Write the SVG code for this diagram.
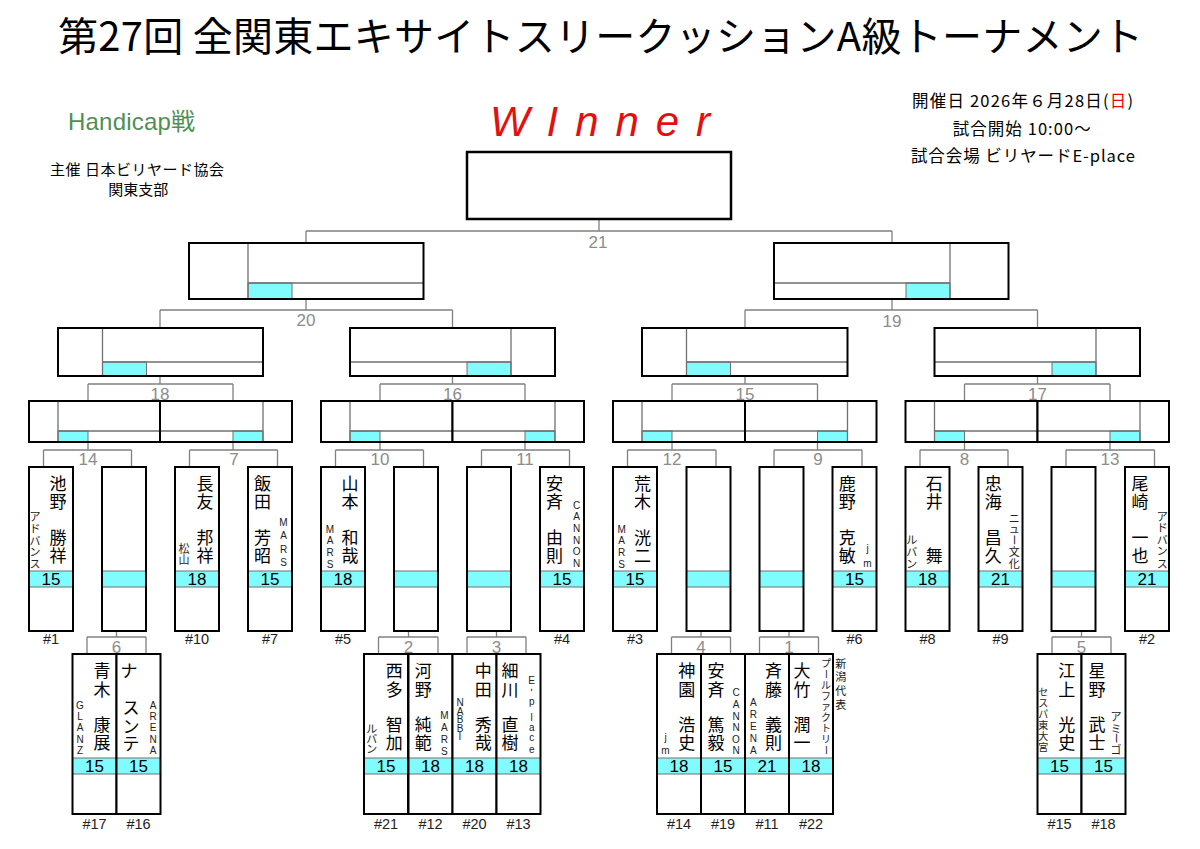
<svg xmlns="http://www.w3.org/2000/svg" xmlns:xlink="http://www.w3.org/1999/xlink" width="1200" height="849" viewBox="0 0 1200 849">
<style>
.wf{fill:#fff;stroke:none}
.ol{fill:none;stroke:#000;stroke-width:2}
.ln{fill:none;stroke:#707070;stroke-width:1.3}
.cy{fill:#80fcff;stroke:#707070;stroke-width:1}
.cn{fill:none;stroke:#808080;stroke-width:1.3}
.lb{font-family:"Liberation Sans",Arial,sans-serif;font-size:17px;fill:#8c8c8c;text-anchor:middle}
.nm{font-family:"Noto Sans CJK JP",sans-serif;font-size:17px;fill:#000;text-anchor:middle}
.cj{font-family:"Noto Sans CJK JP",sans-serif;font-size:11px;fill:#222;text-anchor:middle}
.cs{font-family:"Noto Sans CJK JP",sans-serif;font-size:10px;fill:#222;text-anchor:middle}
.cl{font-family:"Liberation Sans",Arial,sans-serif;font-size:10px;fill:#222;text-anchor:middle}
.sc{font-family:"Liberation Sans",Arial,sans-serif;font-size:17px;fill:#000;text-anchor:middle}
.no{font-family:"Liberation Sans",Arial,sans-serif;font-size:14.5px;fill:#222;text-anchor:middle}
.hd{font-family:"Noto Sans CJK JP",sans-serif;font-size:16.5px;fill:#000;text-anchor:middle}
</style>
<defs>
<g id="tb"><rect class="wf" width="44" height="164"/><rect class="cy" y="104" width="44" height="16"/><rect class="ol" width="44" height="164"/></g>
<g id="bb"><rect class="wf" width="44" height="160"/><rect class="cy" y="104" width="44" height="16"/><rect class="ol" width="44" height="160"/></g>
</defs>
<rect width="1200" height="849" fill="#fff"/>

<g id="header">
<text x="600.5" y="51" font-family="Noto Sans CJK JP, sans-serif" font-size="40" text-anchor="middle" textLength="1085" lengthAdjust="spacing">第27回 全関東エキサイトスリークッションA級トーナメント</text>
<text x="600" y="136" font-family="Liberation Sans, Arial, sans-serif" font-size="42" font-style="italic" fill="#e3100f" text-anchor="middle" textLength="220" lengthAdjust="spacing">WInner</text>
<text x="131.5" y="129.5" font-family="Liberation Sans, Noto Sans CJK JP, sans-serif" font-size="24" fill="#4f8f55" text-anchor="middle" textLength="127" lengthAdjust="spacing">Handicap戦</text>
<text x="137" y="174.5" font-family="Noto Sans CJK JP, sans-serif" font-size="15" text-anchor="middle" textLength="174" lengthAdjust="spacing">主催 日本ビリヤード協会</text>
<text x="138.3" y="194.5" font-family="Noto Sans CJK JP, sans-serif" font-size="15" text-anchor="middle">関東支部</text>
<text class="hd" x="1022.5" y="107" textLength="221" lengthAdjust="spacing">開催日  2026年６月28日(<tspan fill="#e00">日</tspan>)</text>
<text class="hd" x="1021.7" y="135" textLength="138" lengthAdjust="spacing">試合開始 10:00〜</text>
<text class="hd" x="1022.9" y="161.5" textLength="224" lengthAdjust="spacing">試合会場  ビリヤードE-place</text>
</g>

<g id="connectors">
<path class="cn" d="M599 219V231M306 231H892M306 231V243M892 231V243"/>
<path class="cn" d="M306 299V310M160 310H452.5M160 310V328M452.5 310V328"/>
<path class="cn" d="M892 299V310M745 310H1037.5M745 310V328M1037.5 310V328"/>
<path class="cn" d="M160 376V384M88 384H233M88 384V401M233 384V401"/>
<path class="cn" d="M452.5 376V384M380 384H525M380 384V401M525 384V401"/>
<path class="cn" d="M745 376V384M672 384H817.5M672 384V401M817.5 384V401"/>
<path class="cn" d="M1037.5 376V384M964.5 384H1110M964.5 384V401M1110 384V401"/>
<path class="cn" d="M88 442V450M43.5 450H131.5M43.5 450V467M131.5 450V467"/>
<path class="cn" d="M233 442V450M189.5 450H277.5M189.5 450V467M277.5 450V467"/>
<path class="cn" d="M380 442V450M335.5 450H423.5M335.5 450V467M423.5 450V467"/>
<path class="cn" d="M525 442V450M481.5 450H569.5M481.5 450V467M569.5 450V467"/>
<path class="cn" d="M672 442V450M627.5 450H716M627.5 450V467M716 450V467"/>
<path class="cn" d="M817.5 442V450M774 450H862M774 450V467M862 450V467"/>
<path class="cn" d="M964.5 442V450M920 450H1008M920 450V467M1008 450V467"/>
<path class="cn" d="M1110 442V450M1066 450H1154.5M1066 450V467M1154.5 450V467"/>
<path class="cn" d="M116.5 631V637M87 637H146M87 637V654M146 637V654"/>
<path class="cn" d="M408.5 631V637M378.5 637H438M378.5 637V654M438 637V654"/>
<path class="cn" d="M496.5 631V637M467 637H526M467 637V654M526 637V654"/>
<path class="cn" d="M701 631V637M671.5 637H730.5M671.5 637V654M730.5 637V654"/>
<path class="cn" d="M789 631V637M759.5 637H818.5M759.5 637V654M818.5 637V654"/>
<path class="cn" d="M1081.5 631V637M1052 637H1111M1052 637V654M1111 637V654"/>
<text class="lb" x="598" y="247.5">21</text>
<text class="lb" x="306" y="326">20</text>
<text class="lb" x="892" y="326.5">19</text>
<text class="lb" x="160" y="399.5">18</text>
<text class="lb" x="452.5" y="399.5">16</text>
<text class="lb" x="745" y="399.5">15</text>
<text class="lb" x="1037.5" y="399.5">17</text>
<text class="lb" x="88" y="464.5">14</text>
<text class="lb" x="234" y="464.5">7</text>
<text class="lb" x="380" y="464.5">10</text>
<text class="lb" x="525" y="464.5">11</text>
<text class="lb" x="672" y="464.5">12</text>
<text class="lb" x="818" y="464.5">9</text>
<text class="lb" x="964.5" y="464.5">8</text>
<text class="lb" x="1110" y="464.5">13</text>
<text class="lb" x="116.5" y="652.5">6</text>
<text class="lb" x="408.5" y="652.5">2</text>
<text class="lb" x="496.5" y="652.5">3</text>
<text class="lb" x="701" y="652.5">4</text>
<text class="lb" x="789" y="652.5">1</text>
<text class="lb" x="1081.5" y="652.5">5</text>
</g>

<g id="winner"><rect x="467" y="152" width="264" height="67" fill="#fff" stroke="#000" stroke-width="2.5"/></g>

<g id="m20"><rect class="wf" x="189" y="243" width="234.5" height="56"/><rect class="cy" x="248" y="283" width="44" height="16"/><path class="ln" d="M248 243V299M248 283H423.5"/><rect class="ol" x="189" y="243" width="234.5" height="56"/></g>
<g id="m19"><rect class="wf" x="774" y="243" width="234.5" height="56"/><rect class="cy" x="906" y="283" width="44" height="16"/><path class="ln" d="M950 243V299M774 283H950"/><rect class="ol" x="774" y="243" width="234.5" height="56"/></g>

<g id="m18"><rect class="wf" x="58" y="328" width="205" height="48"/><rect class="cy" x="102.5" y="362" width="44" height="14"/><path class="ln" d="M102.5 328V376M102.5 362H263"/><rect class="ol" x="58" y="328" width="205" height="48"/></g>
<g id="m16"><rect class="wf" x="350" y="328" width="205" height="48"/><rect class="cy" x="467" y="362" width="44" height="14"/><path class="ln" d="M511 328V376M350 362H511"/><rect class="ol" x="350" y="328" width="205" height="48"/></g>
<g id="m15"><rect class="wf" x="642" y="328" width="205.5" height="48"/><rect class="cy" x="686.5" y="362" width="44" height="14"/><path class="ln" d="M686.5 328V376M686.5 362H847.5"/><rect class="ol" x="642" y="328" width="205.5" height="48"/></g>
<g id="m17"><rect class="wf" x="934.5" y="328" width="205.5" height="48"/><rect class="cy" x="1052" y="362" width="44" height="14"/><path class="ln" d="M1096 328V376M934.5 362H1096"/><rect class="ol" x="934.5" y="328" width="205.5" height="48"/></g>

<g id="m14"><rect class="wf" x="29" y="401" width="131" height="41"/><rect class="cy" x="58" y="431" width="30" height="11"/><path class="ln" d="M58 401V442M58 431H160"/><rect class="ol" x="29" y="401" width="131" height="41"/></g>
<g id="m7"><rect class="wf" x="160" y="401" width="132" height="41"/><rect class="cy" x="233" y="431" width="30" height="11"/><path class="ln" d="M263 401V442M160 431H263"/><rect class="ol" x="160" y="401" width="132" height="41"/></g>
<g id="m10"><rect class="wf" x="321" y="401" width="131.5" height="41"/><rect class="cy" x="350" y="431" width="30" height="11"/><path class="ln" d="M350 401V442M350 431H452.5"/><rect class="ol" x="321" y="401" width="131.5" height="41"/></g>
<g id="m11"><rect class="wf" x="452.5" y="401" width="131.5" height="41"/><rect class="cy" x="525" y="431" width="30" height="11"/><path class="ln" d="M555 401V442M452.5 431H555"/><rect class="ol" x="452.5" y="401" width="131.5" height="41"/></g>
<g id="m12"><rect class="wf" x="613" y="401" width="132" height="41"/><rect class="cy" x="642" y="431" width="30" height="11"/><path class="ln" d="M642 401V442M642 431H745"/><rect class="ol" x="613" y="401" width="132" height="41"/></g>
<g id="m9"><rect class="wf" x="745" y="401" width="131.5" height="41"/><rect class="cy" x="817.5" y="431" width="30" height="11"/><path class="ln" d="M847.5 401V442M745 431H847.5"/><rect class="ol" x="745" y="401" width="131.5" height="41"/></g>
<g id="m8"><rect class="wf" x="905.5" y="401" width="132" height="41"/><rect class="cy" x="934.5" y="431" width="30" height="11"/><path class="ln" d="M934.5 401V442M934.5 431H1037.5"/><rect class="ol" x="905.5" y="401" width="132" height="41"/></g>
<g id="m13"><rect class="wf" x="1037.5" y="401" width="131.5" height="41"/><rect class="cy" x="1110" y="431" width="30" height="11"/><path class="ln" d="M1140 401V442M1037.5 431H1140"/><rect class="ol" x="1037.5" y="401" width="131.5" height="41"/></g>

<g id="p1"><use href="#tb" x="29" y="467"/><text class="nm" x="58 58 58 58" y="489.8 508.2 543.5 561.5">池野勝祥</text><text class="cj" x="35 35 35 35 35" y="521 532.8 544.6 556.4 568.2">アドバンス</text><text class="sc" x="51" y="585.1">15</text><text class="no" x="51" y="644">#1</text></g>
<g id="e14a"><use href="#tb" x="102" y="467"/></g>
<g id="p10"><use href="#tb" x="175" y="467"/><text class="nm" x="205 205 205 205" y="489.8 508.2 543.5 561.5">長友邦祥</text><text class="cj" x="184 184" y="552.5 563.5">松山</text><text class="sc" x="197" y="585.1">18</text><text class="no" x="197" y="644">#10</text></g>
<g id="p7"><use href="#tb" x="248" y="467"/><text class="nm" x="262.5 262.5 262.5 262.5" y="489.8 508.2 543.5 561.5">飯田芳昭</text><text class="cl" x="283.5 283.5 283.5 283.5" y="525.6 539.1 552.6 566.1">MARS</text><text class="sc" x="270" y="585.1">15</text><text class="no" x="270" y="644">#7</text></g>
<g id="p5"><use href="#tb" x="321" y="467"/><text class="nm" x="350 350 350 350" y="489.8 508.2 543.5 561.5">山本和哉</text><text class="cl" x="330 330 330 330" y="532.6 544.3 555.9 567.6">MARS</text><text class="sc" x="343" y="585.1">18</text><text class="no" x="343" y="644">#5</text></g>
<g id="e10b"><use href="#tb" x="394" y="467"/></g>
<g id="e11a"><use href="#tb" x="467" y="467"/></g>
<g id="p4"><use href="#tb" x="540" y="467"/><text class="nm" x="554.5 554.5 554.5 554.5" y="489.8 508.2 543.5 561.5">安斉由則</text><text class="cl" x="576.7 576.7 576.7 576.7 576.7 576.7" y="508.6 520.3 531.9 543.6 555.3 566.9">CANNON</text><text class="sc" x="562" y="585.1">15</text><text class="no" x="562" y="644">#4</text></g>
<g id="p3"><use href="#tb" x="613" y="467"/><text class="nm" x="642.5 642.5 642.5 642.5" y="489.8 508.2 543.5 561.5">荒木洸二</text><text class="cl" x="621.7 621.7 621.7 621.7" y="532.6 544.3 555.9 567.6">MARS</text><text class="sc" x="635" y="585.1">15</text><text class="no" x="635" y="644">#3</text></g>
<g id="e12b"><use href="#tb" x="686.5" y="467"/></g>
<g id="e9a"><use href="#tb" x="759.5" y="467"/></g>
<g id="p6"><use href="#tb" x="832.5" y="467"/><text class="nm" x="847.3 847.3 847.3 847.3" y="489.8 508.2 543.5 561.5">鹿野克敏</text><text class="cl" x="867.5 867.5" y="551.9 566.6">jm</text><text class="sc" x="854.5" y="585.1">15</text><text class="no" x="854.5" y="644">#6</text></g>
<g id="p8"><use href="#tb" x="905.5" y="467"/><text class="nm" x="934.3 934.3 934.3" y="489.8 508.2 561.5">石井舞</text><text class="cj" x="911.7 911.7 911.7" y="544.2 555.9 567.5">ルバン</text><text class="sc" x="927.5" y="585.1">18</text><text class="no" x="927.5" y="644">#8</text></g>
<g id="p9"><use href="#tb" x="978.5" y="467"/><text class="nm" x="993.3 993.3 993.3 993.3" y="489.8 508.2 543.5 561.5">忠海昌久</text><text class="cj" x="1014.3 1014.3" y="522.5 532.5">ニュ</text><text class="cj" x="1014.3" y="544.2" transform="rotate(90 1014.3 540)">ー</text><text class="cj" x="1014.3 1014.3" y="555.9 567.5">文化</text><text class="sc" x="1000.5" y="585.1">21</text><text class="no" x="1000.5" y="644">#9</text></g>
<g id="e13a"><use href="#tb" x="1051.5" y="467"/></g>
<g id="p2"><use href="#tb" x="1125" y="467"/><text class="nm" x="1140 1140 1140 1140" y="489.8 508.2 543.5 561.5">尾崎一也</text><text class="cj" x="1162.3 1162.3 1162.3 1162.3 1162.3" y="520.9 531.5 543.5 555.2 567.5">アドバンス</text><text class="sc" x="1147" y="585.1">21</text><text class="no" x="1147" y="644">#2</text></g>

<g id="p17"><use href="#bb" x="72.5" y="654"/><text class="nm" x="102 102 102 102" y="677.1 695.5 730.8 748.8">青木康展</text><text class="cl" x="80 80 80 80 80" y="708.6 720 731.4 742.8 754.2">GLANZ</text><text class="sc" x="94.5" y="772.1">15</text><text class="no" x="94.5" y="828.5">#17</text></g>
<g id="p16"><use href="#bb" x="116.5" y="654"/><text class="nm" x="129" y="677.1">ナ</text><text class="nm" x="131 131 131" y="714.3 732.8 749.8">スンテ</text><text class="cl" x="153 153 153 153 153" y="708.6 720 731.4 742.8 754.2">ARENA</text><text class="sc" x="138.5" y="772.1">15</text><text class="no" x="138.5" y="828.5">#16</text></g>
<g id="p21"><use href="#bb" x="364" y="654"/><text class="nm" x="394.3 394.3 394.3 394.3" y="677.1 695.5 730.8 748.8">西多智加</text><text class="cj" x="371.7 371.7 371.7" y="732.5 742.7 752.9">ルバン</text><text class="sc" x="386" y="772.1">15</text><text class="no" x="386" y="828.5">#21</text></g>
<g id="p12"><use href="#bb" x="408.5" y="654"/><text class="nm" x="423.3 423.3 423.3 423.3" y="677.1 695.5 730.8 748.8">河野純範</text><text class="cl" x="444.3 444.3 444.3 444.3" y="718.6 730.6 742.6 754.6">MARS</text><text class="sc" x="430.5" y="772.1">18</text><text class="no" x="430.5" y="828.5">#12</text></g>
<g id="p20"><use href="#bb" x="452.5" y="654"/><text class="nm" x="483.3 483.3 483.3 483.3" y="677.1 695.5 730.8 748.8">中田秀哉</text><text class="cl" x="460 460 460 460 460" y="706.3 714.8 723.3 731.8 740.3">NABBI</text><text class="sc" x="474.5" y="772.1">18</text><text class="no" x="474.5" y="828.5">#20</text></g>
<g id="p13"><use href="#bb" x="496.5" y="654"/><text class="nm" x="510 510 510 510" y="677.1 695.5 730.8 748.8">細川直樹</text><text class="cl" x="531.7" y="683.6">E</text><text class="cl" x="531.7" y="692.8" transform="rotate(90 531.7 690)">-</text><text class="cl" x="531.7 531.7 531.7 531.7 531.7" y="704.9 720.9 730.9 740.9 753.3">place</text><text class="sc" x="518.5" y="772.1">18</text><text class="no" x="518.5" y="828.5">#13</text></g>
<g id="p14"><use href="#bb" x="657" y="654"/><text class="nm" x="686.7 686.7 686.7 686.7" y="677.1 695.5 730.8 748.8">神園浩史</text><text class="cl" x="665.5 665.5" y="741 754.3">jm</text><text class="sc" x="679" y="772.1">18</text><text class="no" x="679" y="828.5">#14</text></g>
<g id="p19"><use href="#bb" x="701" y="654"/><text class="nm" x="716 716 716 716" y="677.1 695.5 730.8 748.8">安斉篤毅</text><text class="cl" x="736 736 736 736 736 736" y="696.3 707.9 719.6 731.2 742.8 754.4">CANNON</text><text class="sc" x="723" y="772.1">15</text><text class="no" x="723" y="828.5">#19</text></g>
<g id="p11"><use href="#bb" x="745" y="654"/><text class="nm" x="773.5 773.5 773.5 773.5" y="677.1 695.5 730.8 748.8">斉藤義則</text><text class="cl" x="753.3 753.3 753.3 753.3 753.3" y="706.3 718.3 730.3 742.3 754.3">ARENA</text><text class="sc" x="767" y="772.1">21</text><text class="no" x="767" y="828.5">#11</text></g>
<g id="p22"><use href="#bb" x="789" y="654"/><text class="nm" x="802 802 802 802" y="677.1 695.5 730.8 748.8">大竹潤一</text><text class="cs" x="826" y="667.1">プ</text><text class="cs" x="826" y="677.9" transform="rotate(90 826 674.1)">ー</text><text class="cs" x="826 826 826 826 826 826" y="688.8 699.6 710.4 721.3 732.1 742.9">ルファクトリ</text><text class="cs" x="826" y="753.8" transform="rotate(90 826 750)">ー</text><text class="cj" x="840.7 840.7 840.7 840.7" y="667.5 681.2 695.2 709.2">新潟代表</text><text class="sc" x="811" y="772.1">18</text><text class="no" x="811" y="828.5">#22</text></g>
<g id="p15"><use href="#bb" x="1037.5" y="654"/><text class="nm" x="1066.7 1066.7 1066.7 1066.7" y="677.1 695.5 730.8 748.8">江上光史</text><text class="cs" x="1043.3 1043.3 1043.3 1043.3 1043.3 1043.3" y="695.5 706.6 717.7 728.8 739.9 751">セスパ東大宮</text><text class="sc" x="1059.5" y="772.1">15</text><text class="no" x="1059.5" y="828.5">#15</text></g>
<g id="p18"><use href="#bb" x="1081.5" y="654"/><text class="nm" x="1097 1097 1097 1097" y="677.1 695.5 730.8 748.8">星野武士</text><text class="cj" x="1116 1116" y="720.9 732.5">アミ</text><text class="cj" x="1116" y="742.5" transform="rotate(90 1116 738.3)">ー</text><text class="cj" x="1116" y="753.5">ゴ</text><text class="sc" x="1103.5" y="772.1">15</text><text class="no" x="1103.5" y="828.5">#18</text></g>
</svg>
